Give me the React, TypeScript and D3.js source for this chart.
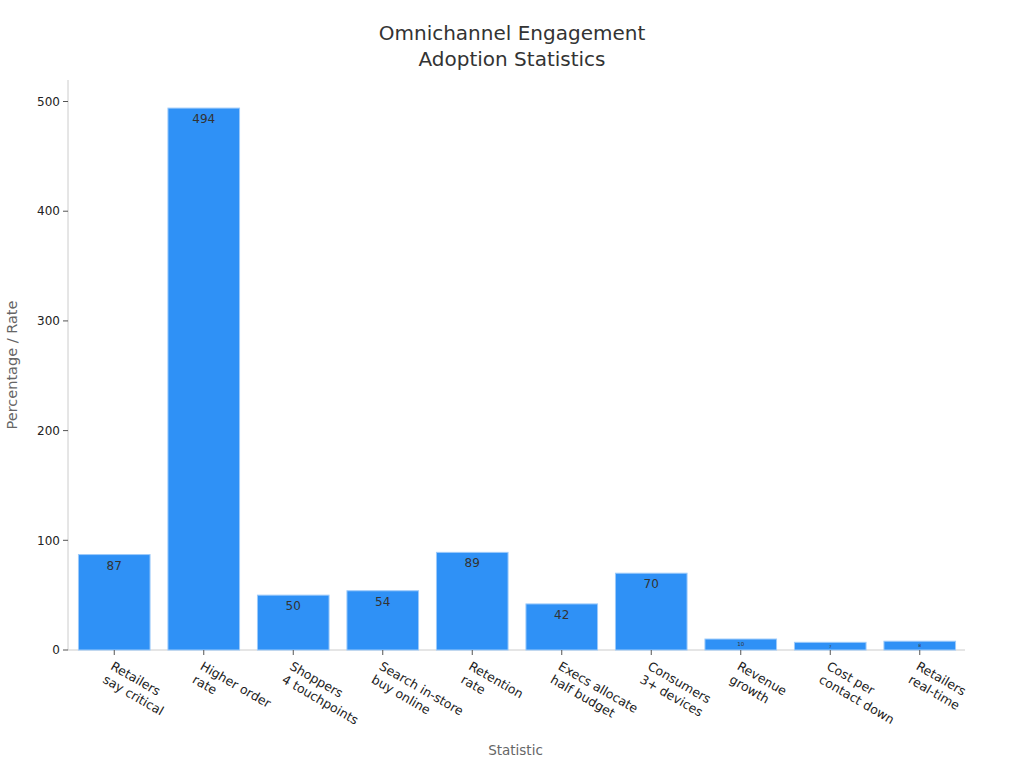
import React from 'react';
import { scaleBand, scaleLinear } from 'd3';

const categories = [
    ['Retailers', 'say critical'],
    ['Higher order', 'rate'],
    ['Shoppers', '4 touchpoints'],
    ['Search in-store', 'buy online'],
    ['Retention', 'rate'],
    ['Execs allocate', 'half budget'],
    ['Consumers', '3+ devices'],
    ['Revenue', 'growth'],
    ['Cost per', 'contact down'],
    ['Retailers', 'real-time'],
];
const values = [87, 494, 50, 54, 89, 42, 70, 10, 7, 8];
const yTicks = [0, 100, 200, 300, 400, 500];

const W = 1024;
const H = 768;
const margin = { left: 68, right: 61, top: 80, bottom: 118 };
const FONT = '"DejaVu Sans", sans-serif';

export default function App() {
    const x = scaleBand<number>()
        .domain(values.map((_, i) => i))
        .range([margin.left + 1.5, W - margin.right + 1.5])
        .paddingInner(0.2)
        .paddingOuter(0.1);
    const y = scaleLinear()
        .domain([0, Math.max(...values) * 1.05])
        .range([H - margin.bottom, margin.top + 1]);
    const y0 = y(0);

    return (
        <svg width={W} height={H} style={{ position: 'absolute', left: 0, top: 0, fontFamily: FONT }}>
            <rect width={W} height={H} fill="#fff" />
            <text x={512} y={40} textAnchor="middle" fontSize={20} fill="#333">
                Omnichannel Engagement
            </text>
            <text x={512} y={66} textAnchor="middle" fontSize={20} fill="#333">
                Adoption Statistics
            </text>

            {/* axes */}
            <line x1={margin.left} x2={margin.left} y1={margin.top} y2={y0} stroke="#ccc" />
            <line x1={margin.left} x2={W - margin.right + 2} y1={y0} y2={y0} stroke="#ccc" />

            {yTicks.map((t) => (
                <g key={t} transform={`translate(${margin.left},${y(t)})`}>
                    <line x1={-5} x2={0} stroke="#555" />
                    <text x={-8} dy="0.35em" textAnchor="end" fontSize={12} fill="#222">
                        {t}
                    </text>
                </g>
            ))}

            {values.map((v, i) => {
                const bx = x(i) as number;
                const by = y(v);
                const bh = y0 - by;
                const fs = Math.min(12, bh * 0.5);
                const ly = bh > 24 ? by + 15 : by + bh / 2 + fs * 0.35;
                return (
                    <g key={i}>
                        <rect x={bx} y={by} width={x.bandwidth()} height={bh} fill="#2f91f6" stroke="#9ccafa" strokeWidth={1} />
                        <text x={bx + x.bandwidth() / 2} y={ly} textAnchor="middle" fontSize={fs} fill="#333">
                            {v}
                        </text>
                    </g>
                );
            })}

            {categories.map((c, i) => {
                const cx = (x(i) as number) + x.bandwidth() / 2;
                return (
                    <g key={i}>
                        <line x1={cx} x2={cx} y1={y0} y2={y0 + 5} stroke="#555" />
                        <g transform={`translate(${cx},${y0 + 11}) rotate(30)`}>
                            {c.map((line, j) => (
                                <text key={j} x={0} y={j * 15.5} dy="0.71em" fontSize={12.5} fill="#222">
                                    {line}
                                </text>
                            ))}
                        </g>
                    </g>
                );
            })}

            <text x={(margin.left + W - margin.right) / 2} y={755} textAnchor="middle" fontSize={13.5} fill="#666">
                Statistic
            </text>
            <text
                transform={`translate(17,${(margin.top + y0) / 2}) rotate(-90)`}
                textAnchor="middle"
                fontSize={14.5}
                fill="#666"
            >
                Percentage / Rate
            </text>
        </svg>
    );
}
